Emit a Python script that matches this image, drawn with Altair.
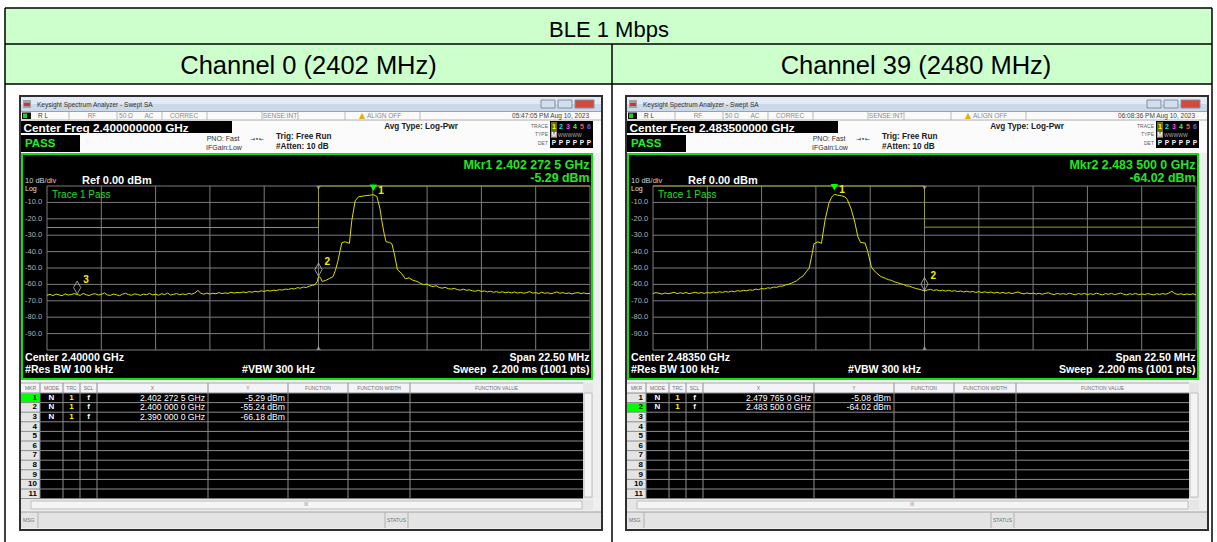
import altair as alt
import pandas as pd

W, H = 1217, 542
DX = 606                      # horizontal shift of the second analyzer screen
SANS = "Liberation Sans"
NB = "\u00a0"

# ---------------- data ----------------
table_title = "BLE 1 Mbps"
column_titles = ["Channel 0 (2402 MHz)", "Channel 39 (2480 MHz)"]
center_mhz = [2400.0, 2483.5]
span_mhz = 22.5
ref_dbm = 0.0
bottom_dbm = -100.0
grid_db = [-10, -20, -30, -40, -50, -60, -70, -80, -90]

center_freq_labels = ["Center Freq 2.400000000 GHz", "Center Freq 2.483500000 GHz"]
center_labels = ["Center 2.40000 GHz", "Center 2.48350 GHz"]
timestamps = ["05:47:05 PM Aug 10, 2023", "06:08:36 PM Aug 10, 2023"]
span_label = "Span 22.50 MHz"
rbw_label = "#Res BW 100 kHz"
vbw_label = "#VBW 300 kHz"
sweep_label = "Sweep" + NB + NB + "2.200 ms (1001 pts)"
ref_label = "Ref 0.00 dBm"
div_label = "10 dB/div"

# trace 1, frequency offset from centre (MHz) and level (dBm)
ch0_offset_mhz = [
    -11.25, -11.125, -11.0, -10.875, -10.75, -10.625, -10.5, -10.375, -10.25, -10.125,
    -10.0, -9.875, -9.75, -9.625, -9.5, -9.375, -9.25, -9.125, -9.0, -8.875,
    -8.75, -8.625, -8.5, -8.375, -8.25, -8.125, -8.0, -7.875, -7.75, -7.625,
    -7.5, -7.375, -7.25, -7.125, -7.0, -6.875, -6.75, -6.625, -6.5, -6.375,
    -6.25, -6.125, -6.0, -5.875, -5.75, -5.625, -5.5, -5.375, -5.25, -5.125,
    -5.0, -4.875, -4.75, -4.625, -4.5, -4.375, -4.25, -4.125, -4.0, -3.875,
    -3.75, -3.625, -3.5, -3.375, -3.25, -3.125, -3.0, -2.875, -2.75, -2.625,
    -2.5, -2.375, -2.25, -2.125, -2.0, -1.875, -1.75, -1.625, -1.5, -1.375,
    -1.25, -1.125, -1.0, -0.875, -0.75, -0.625, -0.5, -0.375, -0.25, -0.15,
    -0.05, 0.0, 0.08, 0.15, 0.3, 0.45, 0.6, 0.7, 0.8, 0.9,
    0.97, 1.1, 1.28, 1.38, 1.52, 1.66, 1.9, 2.14, 2.2725, 2.42,
    2.55, 2.62, 2.72, 2.8, 2.95, 3.04, 3.15, 3.27, 3.45, 3.6,
    3.75, 3.9, 4.1, 4.25, 4.35, 4.5, 4.625, 4.75, 4.875, 5.0,
    5.125, 5.25, 5.375, 5.5, 5.625, 5.75, 5.875, 6.0, 6.125, 6.25,
    6.375, 6.5, 6.625, 6.75, 6.875, 7.0, 7.125, 7.25, 7.375, 7.5,
    7.625, 7.75, 7.875, 8.0, 8.125, 8.25, 8.375, 8.5, 8.625, 8.75,
    8.875, 9.0, 9.125, 9.25, 9.375, 9.5, 9.625, 9.75, 9.875, 10.0,
    10.125, 10.25, 10.375, 10.5, 10.625, 10.75, 10.875, 11.0, 11.125, 11.25]
ch0_dbm = [
    -66.6, -66.1, -66.8, -65.9, -66.4, -66.9, -65.8, -66.5, -66.2, -65.6,
    -66.18, -66.7, -65.5, -66.3, -66.8, -66.0, -65.7, -66.5, -66.1, -65.2,
    -66.4, -66.7, -65.9, -66.3, -66.9, -66.0, -65.4, -66.2, -66.6, -65.8,
    -66.1, -66.7, -65.9, -66.3, -65.5, -66.4, -66.0, -66.6, -65.7, -66.2,
    -65.3, -66.5, -66.0, -65.6, -66.3, -65.8, -66.2, -65.5, -66.0, -65.2,
    -63.7, -65.4, -66.0, -65.3, -65.9, -65.4, -65.7, -65.0, -65.6, -65.2,
    -65.5, -64.8, -65.3, -64.9, -65.1, -64.6, -65.0, -64.4, -64.8, -64.2,
    -64.6, -63.9, -64.3, -63.7, -64.1, -63.5, -63.8, -63.2, -63.5, -62.9,
    -63.1, -62.5, -62.8, -62.0, -62.3, -61.6, -61.9, -61.0, -60.6, -60.2,
    -58.2, -55.24, -55.8, -58.2, -57.6, -56.4, -55.3, -51.5, -46.0, -39.0,
    -34.5, -34.0, -35.0, -21.0, -9.0, -6.6, -6.0, -5.6, -5.29, -6.4,
    -14.0, -21.0, -29.0, -34.0, -34.4, -35.2, -42.0, -51.0, -53.5, -56.6,
    -56.0, -57.4, -58.3, -59.6, -60.1, -59.8, -60.9, -61.3, -60.8, -61.9,
    -62.3, -61.8, -62.6, -62.9, -62.4, -63.2, -63.5, -62.9, -63.6, -63.3,
    -63.9, -64.2, -63.6, -64.3, -64.0, -64.6, -64.2, -64.8, -64.4, -65.0,
    -64.5, -65.1, -64.7, -65.2, -64.6, -65.3, -64.9, -65.4, -65.0, -64.4,
    -65.3, -65.0, -65.6, -64.8, -65.4, -65.1, -65.7, -65.2, -64.6, -65.4,
    -65.0, -65.6, -65.2, -65.8, -65.3, -65.0, -65.6, -65.2, -65.7, -65.4]

ch39_offset_mhz = [
    -11.25, -11.125, -11.0, -10.875, -10.75, -10.625, -10.5, -10.375, -10.25, -10.125,
    -10.0, -9.875, -9.75, -9.625, -9.5, -9.375, -9.25, -9.125, -9.0, -8.875,
    -8.75, -8.625, -8.5, -8.375, -8.25, -8.125, -8.0, -7.875, -7.75, -7.625,
    -7.5, -7.375, -7.25, -7.125, -7.0, -6.875, -6.75, -6.625, -6.5, -6.375,
    -6.25, -6.125, -6.0, -5.875, -5.75, -5.625, -5.5, -5.3, -5.15, -5.04,
    -4.9, -4.78, -4.65, -4.58, -4.42, -4.27, -4.12, -3.96, -3.85, -3.735,
    -3.6, -3.45, -3.3, -3.2, -3.04, -2.89, -2.76, -2.65, -2.46, -2.35,
    -2.2, -2.04, -1.81, -1.625, -1.5, -1.375, -1.25, -1.125, -1.0, -0.875,
    -0.75, -0.625, -0.5, -0.375, -0.25, -0.125, 0.0, 0.125, 0.25, 0.375,
    0.5, 0.625, 0.75, 0.875, 1.0, 1.125, 1.25, 1.375, 1.5, 1.625,
    1.75, 1.875, 2.0, 2.125, 2.25, 2.375, 2.5, 2.625, 2.75, 2.875,
    3.0, 3.125, 3.25, 3.375, 3.5, 3.625, 3.75, 3.875, 4.0, 4.125,
    4.25, 4.375, 4.5, 4.625, 4.75, 4.875, 5.0, 5.125, 5.25, 5.375,
    5.5, 5.625, 5.75, 5.875, 6.0, 6.125, 6.25, 6.375, 6.5, 6.625,
    6.75, 6.875, 7.0, 7.125, 7.25, 7.375, 7.5, 7.625, 7.75, 7.875,
    8.0, 8.125, 8.25, 8.375, 8.5, 8.625, 8.75, 8.875, 9.0, 9.125,
    9.25, 9.375, 9.5, 9.625, 9.75, 9.875, 10.0, 10.125, 10.25, 10.375,
    10.5, 10.625, 10.75, 10.875, 11.0, 11.125, 11.25]
ch39_dbm = [
    -65.6, -65.0, -65.4, -65.9, -65.2, -65.7, -65.3, -64.8, -65.6, -65.1,
    -65.5, -64.9, -65.7, -65.2, -64.8, -65.4, -65.0, -65.5, -64.9, -65.3,
    -64.6, -65.1, -64.5, -64.9, -64.3, -64.7, -64.1, -64.5, -63.8, -64.2,
    -63.6, -63.9, -63.3, -63.6, -62.9, -63.2, -62.5, -62.8, -62.1, -62.3,
    -61.6, -61.8, -61.1, -61.0, -60.3, -59.9, -59.2, -57.8, -56.0, -55.0,
    -52.3, -50.1, -41.0, -35.2, -34.0, -35.0, -20.7, -10.5, -6.8, -5.08,
    -5.6, -5.9, -6.6, -8.2, -14.0, -22.0, -31.0, -34.4, -34.8, -40.0,
    -49.5, -52.4, -55.2, -56.3, -57.1, -57.5, -58.4, -58.9, -59.6, -60.0,
    -60.9, -61.1, -61.8, -62.4, -62.9, -63.3, -64.02, -63.4, -63.0, -63.7,
    -63.3, -63.9, -63.5, -64.1, -63.6, -64.2, -63.8, -64.4, -64.0, -64.6,
    -64.1, -64.7, -64.3, -64.9, -64.4, -65.0, -64.5, -65.1, -64.6, -65.3,
    -64.8, -65.4, -64.9, -65.5, -65.0, -65.6, -65.1, -64.6, -65.4, -65.8,
    -65.2, -65.7, -65.3, -65.9, -65.4, -66.0, -65.5, -65.1, -65.8, -66.2,
    -65.5, -66.0, -65.6, -66.1, -65.4, -65.9, -66.3, -65.6, -66.0, -65.5,
    -66.2, -65.7, -66.1, -65.4, -65.9, -66.4, -65.6, -66.0, -65.5, -66.2,
    -65.8, -65.3, -66.0, -66.4, -65.7, -66.1, -65.5, -66.3, -65.8, -66.2,
    -65.6, -66.0, -66.4, -65.7, -66.1, -65.6, -66.0, -65.3, -64.2, -65.6,
    -66.1, -65.7, -66.3, -65.8, -66.2, -65.7, -66.4]

# limit lines (MHz, dBm)
ch0_limit_mhz = [2388.75, 2400.0, 2400.0, 2411.25]
ch0_limit_dbm = [-25.29, -25.29, 0.0, 0.0]
ch39_limit_mhz = [2472.25, 2483.5, 2483.5, 2494.75]
ch39_limit_dbm = [0.0, 0.0, -25.08, -25.08]

# marker table
ch0_mkr_id = [1, 2, 3]
ch0_mkr_mhz = [2402.2725, 2400.0, 2390.0]
ch0_mkr_dbm = [-5.29, -55.24, -66.18]
ch0_mkr_x = ["2.402 272 5 GHz", "2.400 000 0 GHz", "2.390 000 0 GHz"]
ch0_mkr_y = ["-5.29 dBm", "-55.24 dBm", "-66.18 dBm"]
ch39_mkr_id = [1, 2]
ch39_mkr_mhz = [2479.765, 2483.5]
ch39_mkr_dbm = [-5.08, -64.02]
ch39_mkr_x = ["2.479 765 0 GHz", "2.483 500 0 GHz"]
ch39_mkr_y = ["-5.08 dBm", "-64.02 dBm"]
active_marker = [1, 2]

table_cols = ["MKR", "MODE", "TRC", "SCL", "X", "Y", "FUNCTION", "FUNCTION WIDTH", "FUNCTION VALUE"]
trace_digits = ["1", "2", "3", "4", "5", "6"]
trace_colors = ["#ffff00", "#00e8e8", "#ff40ff", "#30ff30", "#ff5050", "#6060ff"]

panels = [
    dict(offset=ch0_offset_mhz, dbm=ch0_dbm, lim_f=ch0_limit_mhz, lim_d=ch0_limit_dbm,
         mid=ch0_mkr_id, mf=ch0_mkr_mhz, md=ch0_mkr_dbm, mx=ch0_mkr_x, my=ch0_mkr_y),
    dict(offset=ch39_offset_mhz, dbm=ch39_dbm, lim_f=ch39_limit_mhz, lim_d=ch39_limit_dbm,
         mid=ch39_mkr_id, mf=ch39_mkr_mhz, md=ch39_mkr_dbm, mx=ch39_mkr_x, my=ch39_mkr_y),
]

# ---------------- drawing helpers ----------------
rects, boxes, lines, texts = [], [], [], []


def R(x1, y1, x2, y2, c, ox=0):
    rects.append(dict(x=x1 + ox, x2=x2 + ox, y=y1, y2=y2, c=c))


def B(x1, y1, x2, y2, c, w=1, ox=0):
    boxes.append(dict(x=x1 + ox, x2=x2 + ox, y=y1, y2=y2, c=c, w=w))


def L(x1, y1, x2, y2, c, w=1, ox=0):
    lines.append(dict(x=x1 + ox, x2=x2 + ox, y=y1, y2=y2, c=c, w=w))


def T(x, y, t, s, c, wt="normal", al="left", font=SANS, ox=0):
    texts.append(dict(x=x + ox, y=y, t=str(t), s=s, c=c, wt=wt, al=al, font=font))


# ---------------- outer table ----------------
R(5, 8, 1212, 84, "#ccffcc")
for yy in (8, 44, 84):
    L(5, yy, 1212, yy, "#000000", 1.5)
L(5, 8, 5, 542, "#000000", 1.5)
L(1212, 8, 1212, 542, "#000000", 1.5)
L(612, 44, 612, 542, "#000000", 1.5)
T(609, 29.5, table_title, 22, "#000000", al="center")
T(308.5, 66, column_titles[0], 25.5, "#000000", al="center")
T(916, 66, column_titles[1], 25.5, "#000000", al="center")

# ---------------- analyzer screens ----------------
ROW_Y0, ROW_H = 393, 9.6
col_edges = [21, 40, 63, 80, 97, 208, 288, 348, 410, 583]

for i, p in enumerate(panels):
    o = i * DX
    # window frame and title bar
    R(19, 95, 603, 531, "#2f2f2f", ox=o)
    R(21, 97, 601, 529, "#efefef", ox=o)
    R(21, 97, 601, 104, "#e2eaf5", ox=o)
    R(21, 104, 601, 111, "#cbd8ea", ox=o)
    R(23, 100, 31, 108, "#a0a0a0", ox=o)
    R(24, 103, 30, 106, "#c03a3a", ox=o)
    T(37, 104.5, "Keysight Spectrum Analyzer - Swept SA", 6.5, "#303030", ox=o)
    for bx1, bx2, bc in ((541, 555, "#d3deec"), (558, 572, "#d3deec"), (575, 594, "#d44a3a")):
        R(bx1, 100, bx2, 108, bc, ox=o)
        B(bx1, 100, bx2, 108, "#7f8ea5", ox=o)
    # status row
    R(21, 111, 601, 120, "#fafafa", ox=o)
    L(21, 111.5, 601, 111.5, "#a0a0a0", ox=o)
    L(21, 120, 601, 120, "#b4b4b4", ox=o)
    for sx in (69, 117, 162, 207, 262, 298, 345, 420):
        L(sx, 112, sx, 120, "#b8b8b8", ox=o)
    R(22, 112.5, 31, 119, "#111111", ox=o)
    R(23, 113.5, 27, 118, "#22cc22", ox=o)
    T(38, 116, "R L", 6.5, "#404040", ox=o)
    T(92, 116, "RF", 6.5, "#8a8a8a", al="center", ox=o)
    T(126, 116, "50 Ω", 6.5, "#8a8a8a", al="center", ox=o)
    T(149, 116, "AC", 6.5, "#8a8a8a", al="center", ox=o)
    T(184, 116, "CORREC", 6.5, "#8a8a8a", al="center", ox=o)
    T(280, 116, "SENSE:INT", 6.5, "#8a8a8a", al="center", ox=o)
    T(362, 115.5, "▲", 8, "#e0b400", al="center", font="DejaVu Sans", ox=o)
    T(367, 116, "ALIGN OFF", 6.5, "#8a8a8a", ox=o)
    T(589, 116, timestamps[i], 6.5, "#404040", al="right", ox=o)
    # settings row
    R(21, 120.5, 601, 153, "#fbfbfb", ox=o)
    R(21, 121, 232, 133, "#000000", ox=o)
    T(23.5, 127.5, center_freq_labels[i], 11.8, "#ffffff", wt="bold", ox=o)
    R(21, 135, 80, 152, "#000000", ox=o)
    T(25, 144, "PASS", 11.5, "#22ee22", wt="bold", ox=o)
    T(223, 138.5, "PNO: Fast", 7, "#303030", al="center", ox=o)
    T(224, 147.5, "IFGain:Low", 7, "#303030", al="center", ox=o)
    T(257, 138.5, "→•←", 6, "#303030", al="center", font="DejaVu Sans", ox=o)
    T(276, 136.5, "Trig: Free Run", 8.2, "#202020", wt="bold", ox=o)
    T(276, 147, "#Atten: 10 dB", 8.2, "#202020", wt="bold", ox=o)
    T(421, 127, "Avg Type: Log-Pwr", 8.2, "#202020", wt="bold", al="center", ox=o)
    T(548, 126, "TRACE", 5, "#606060", al="right", ox=o)
    T(548, 134, "TYPE", 5, "#606060", al="right", ox=o)
    T(548, 142.5, "DET", 5, "#606060", al="right", ox=o)
    R(550, 121, 593, 148, "#000000", ox=o)
    R(551, 122, 557, 131, "#6a6a10", ox=o)
    R(551, 131, 557, 138, "#6a6a6a", ox=o)
    for k, (dg, dc) in enumerate(zip(trace_digits, trace_colors)):
        cx = 554 + k * 7
        T(cx, 126.5, dg, 7, dc, wt="bold", al="center", ox=o)
        T(cx, 143, "P", 6.5, "#ffffff", wt="bold", al="center", ox=o)
    T(554, 134.5, "M", 6.5, "#ffffff", wt="bold", al="center", ox=o)
    T(558, 134.5, "WWWWW", 5, "#b0b0b0", ox=o)

    # graph panel
    R(21, 153, 593, 380, "#000000", ox=o)
    B(22, 154, 592, 379, "#10e010", 2, ox=o)
    act = active_marker[i]
    ai = p["mid"].index(act)
    T(589.5, 164.5, f"Mkr{act} {p['mx'][ai]}", 12.4, "#22e622", wt="bold", al="right", ox=o)
    T(589.5, 177.5, p["my"][ai], 12.4, "#22e622", wt="bold", al="right", ox=o)
    T(25, 180.5, div_label, 7.5, "#d0d0d0", ox=o)
    T(82, 180.5, ref_label, 11, "#ffffff", wt="bold", ox=o)
    T(25, 188.5, "Log", 7, "#e0e0e0", ox=o)
    T(52, 195, "Trace 1 Pass", 10, "#22dd22", ox=o)
    T(25, 358, center_labels[i], 10.6, "#ffffff", wt="bold", ox=o)
    T(25, 370, rbw_label, 10.6, "#ffffff", wt="bold", ox=o)
    T(315, 370, vbw_label, 10.6, "#ffffff", wt="bold", al="right", ox=o)
    T(589.5, 358, span_label, 10.6, "#ffffff", wt="bold", al="right", ox=o)
    T(589.5, 370, sweep_label, 10.6, "#ffffff", wt="bold", al="right", ox=o)

    # marker table
    R(21, 383, 583, 393, "#f4f4f8", ox=o)
    R(21, 393, 40, 499, "#e4e4e4", ox=o)
    R(40, 393, 583, 499, "#000000", ox=o)
    arow = ROW_Y0 + ROW_H * (act - 1)
    R(21, arow + 0.5, 40, arow + ROW_H, "#00ff00", ox=o)
    L(21, 383, 583, 383, "#a8a8a8", ox=o)
    for k in range(12):
        yy = ROW_Y0 + ROW_H * k
        L(21, yy, 583, yy, "#8c8c8c", ox=o)
    for cx in col_edges[1:-1]:
        L(cx, 383, cx, 499, "#8c8c8c", ox=o)
    for k, name in enumerate(table_cols):
        T((col_edges[k] + col_edges[k + 1]) / 2, 388, name, 5, "#707070", al="center", ox=o)
    for k in range(1, 12):
        T(37, ROW_Y0 + ROW_H * (k - 0.5), k, 8, "#000000", wt="bold", al="right", ox=o)
    for k, mid in enumerate(p["mid"]):
        yy = ROW_Y0 + ROW_H * (mid - 0.5)
        T(51.5, yy, "N", 8, "#ffffff", wt="bold", al="center", ox=o)
        T(71.5, yy, "1", 8, "#ffff00", wt="bold", al="center", ox=o)
        T(88.5, yy, "f", 8, "#ffffff", wt="bold", al="center", ox=o)
        T(205, yy, p["mx"][k], 8.6, "#ffffff", al="right", ox=o)
        T(285, yy, p["my"][k], 8.6, "#ffffff", al="right", ox=o)
    # scroll bars and status line
    R(583, 383, 593, 499, "#e6e6e6", ox=o)
    R(584, 393, 592, 497, "#f4f4f4", ox=o)
    B(584, 393, 592, 497, "#c0c0c0", ox=o)
    R(21, 500, 593, 510, "#e6e6e6", ox=o)
    R(31, 501, 582, 509, "#f4f4f4", ox=o)
    B(31, 501, 582, 509, "#c0c0c0", ox=o)
    T(306, 505, "III", 4.5, "#808080", al="center", ox=o)
    R(21, 512, 601, 528, "#e4e4e4", ox=o)
    L(21, 512, 601, 512, "#a0a0a0", ox=o)
    for sx in (38, 385, 408):
        L(sx, 512, sx, 528, "#b0b0b0", ox=o)
    T(23, 520, "MSG", 5, "#707070", ox=o)
    T(396.5, 520, "STATUS", 5, "#707070", al="center", ox=o)


# ---------------- layers ----------------
def PX(f):
    return alt.X(f"{f}:Q", scale=None, axis=None)


def PY(f):
    return alt.Y(f"{f}:Q", scale=None, axis=None)


layers = [
    alt.Chart(pd.DataFrame(rects)).mark_rect().encode(
        x=PX("x"), x2="x2:Q", y=PY("y"), y2="y2:Q", fill=alt.Fill("c:N", scale=None)),
    alt.Chart(pd.DataFrame(lines)).mark_rule().encode(
        x=PX("x"), x2="x2:Q", y=PY("y"), y2="y2:Q", color=alt.Color("c:N", scale=None),
        strokeWidth=alt.StrokeWidth("w:Q", scale=None)),
    alt.Chart(pd.DataFrame(boxes)).mark_rect(fillOpacity=0).encode(
        x=PX("x"), x2="x2:Q", y=PY("y"), y2="y2:Q", stroke=alt.Stroke("c:N", scale=None),
        strokeWidth=alt.StrokeWidth("w:Q", scale=None)),
]

DIAMOND = "M0,-1L0.55,0L0,1L-0.55,0Z"

for i, p in enumerate(panels):
    o = i * DX
    c = center_mhz[i]
    fx = alt.Scale(domain=[c - span_mhz / 2, c + span_mhz / 2], range=[47 + o, 590 + o],
                   nice=False, zero=False)
    fy = alt.Scale(domain=[bottom_dbm, ref_dbm], range=[350, 186], nice=False, zero=False)

    def X(f):
        return alt.X(f"{f}:Q", scale=fx, axis=None)

    def Y(f):
        return alt.Y(f"{f}:Q", scale=fy, axis=None)

    vgrid = pd.DataFrame({"f": [c - span_mhz / 2 + span_mhz / 10 * k for k in range(11)],
                          "lo": bottom_dbm, "hi": ref_dbm})
    hgrid = pd.DataFrame({"d": [ref_dbm] + grid_db + [bottom_dbm],
                          "f0": c - span_mhz / 2, "f1": c + span_mhz / 2})
    ylab = pd.DataFrame({"d": grid_db, "t": [f"{v:.1f}" for v in grid_db]})
    trace = pd.DataFrame({"f": [c + v for v in p["offset"]], "d": p["dbm"]})
    limit = pd.DataFrame({"f": p["lim_f"], "d": p["lim_d"], "k": range(len(p["lim_f"]))})
    mk = pd.DataFrame({"f": p["mf"], "d": p["md"], "t": [str(v) for v in p["mid"]]})
    peak = mk.iloc[[0]]
    others = mk.iloc[1:]
    edge = pd.DataFrame({"f": [c, c], "d": [ref_dbm, bottom_dbm]})

    layers += [
        alt.Chart(vgrid).mark_rule(color="#7c7c7c", strokeWidth=1).encode(
            x=X("f"), y=Y("lo"), y2="hi:Q"),
        alt.Chart(hgrid).mark_rule(color="#7c7c7c", strokeWidth=1).encode(
            x=X("f0"), x2="f1:Q", y=Y("d")),
        alt.Chart(ylab).mark_text(align="left", baseline="middle", font=SANS, fontSize=7.5,
                                  color="#b4b4b4").encode(
            x=alt.value(25 + o), y=Y("d"), text="t:N"),
        alt.Chart(limit).mark_line(color="#9a9a3a", strokeWidth=1).encode(
            x=X("f"), y=Y("d"), order="k:Q"),
        alt.Chart(edge.iloc[[0]]).mark_point(shape="triangle-down", filled=True, size=22,
                                             color="#a8a8a8", yOffset=2).encode(x=X("f"), y=Y("d")),
        alt.Chart(edge.iloc[[1]]).mark_point(shape="triangle-up", filled=True, size=22,
                                             color="#a8a8a8", yOffset=-2).encode(x=X("f"), y=Y("d")),
        alt.Chart(trace).mark_line(color="#dede00", strokeWidth=1).encode(x=X("f"), y=Y("d")),
        alt.Chart(others).mark_point(shape=DIAMOND, size=170, filled=False, color="#d8d8d8",
                                     strokeWidth=1, yOffset=-7).encode(x=X("f"), y=Y("d")),
        alt.Chart(others).mark_text(align="left", baseline="middle", font=SANS, fontSize=10,
                                    fontWeight="bold", color="#f0f000", dx=6, dy=-15).encode(
            x=X("f"), y=Y("d"), text="t:N"),
        alt.Chart(peak).mark_point(shape="triangle-down", filled=True, size=55, color="#00ff00",
                                   opacity=1, yOffset=-7).encode(x=X("f"), y=Y("d")),
        alt.Chart(peak).mark_text(align="left", baseline="middle", font=SANS, fontSize=10,
                                  fontWeight="bold", color="#f0f000", dx=5, dy=-4).encode(
            x=X("f"), y=Y("d"), text="t:N"),
    ]

tdf = pd.DataFrame(texts)
for (wt, al, fnt), g in tdf.groupby(["wt", "al", "font"], sort=False):
    layers.append(
        alt.Chart(g.reset_index(drop=True)).mark_text(
            align=al, baseline="middle", fontWeight=wt, font=fnt).encode(
            x=PX("x"), y=PY("y"), text="t:N",
            color=alt.Color("c:N", scale=None), size=alt.Size("s:Q", scale=None)))

chart = alt.layer(*layers).resolve_scale(x="independent", y="independent").properties(
    width=W, height=H, padding=0, background="#ffffff",
    autosize=alt.AutoSizeParams(type="none"),
).configure_view(stroke=None)

chart.save("out.html", embed_options={"renderer": "svg", "actions": False})
